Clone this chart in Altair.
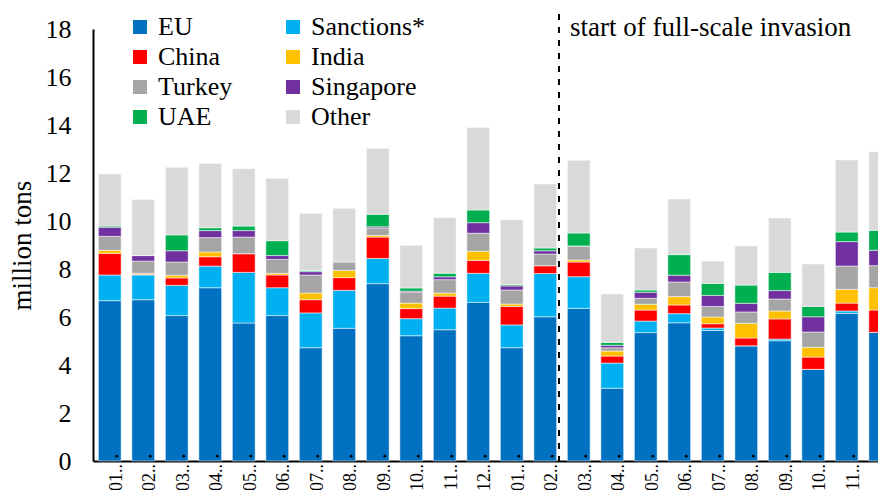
import altair as alt
import pandas as pd

months = ["2021-01", "2021-02", "2021-03", "2021-04", "2021-05", "2021-06",
          "2021-07", "2021-08", "2021-09", "2021-10", "2021-11", "2021-12",
          "2022-01", "2022-02", "2022-03", "2022-04", "2022-05", "2022-06",
          "2022-07", "2022-08", "2022-09", "2022-10", "2022-11", "2022-12"]

series = ["EU", "Sanctions*", "China", "India", "Turkey", "Singapore", "UAE", "Other"]
colors = ["#0070C0", "#00B0F0", "#FF0000", "#FFC000", "#A5A5A5", "#7030A0", "#00B050", "#D9D9D9"]

eu = [6.68, 6.72, 6.06, 7.22, 5.75, 6.06, 4.72, 5.53, 7.39, 5.22, 5.47, 6.61,
      4.72, 6.01, 6.36, 3.03, 5.35, 5.76, 5.44, 4.80, 5.01, 3.82, 6.15, 5.36]
sanctions = [1.07, 1.03, 1.26, 0.90, 2.11, 1.16, 1.45, 1.58, 1.05, 0.71, 0.90, 1.21,
             0.95, 1.80, 1.32, 1.05, 0.48, 0.38, 0.10, 0.00, 0.07, 0.00, 0.10, 0.00]
china = [0.90, 0.03, 0.31, 0.39, 0.78, 0.53, 0.55, 0.53, 0.89, 0.42, 0.50, 0.54,
         0.77, 0.33, 0.61, 0.29, 0.46, 0.36, 0.18, 0.325, 0.84, 0.51, 0.33, 0.93]
india = [0.13, 0.04, 0.11, 0.20, 0.00, 0.07, 0.28, 0.30, 0.07, 0.23, 0.125, 0.38,
         0.10, 0.00, 0.085, 0.21, 0.24, 0.35, 0.28, 0.615, 0.33, 0.41, 0.57, 0.93]
turkey = [0.58, 0.51, 0.55, 0.60, 0.69, 0.58, 0.75, 0.35, 0.31, 0.46, 0.56, 0.75,
          0.585, 0.485, 0.585, 0.14, 0.25, 0.61, 0.44, 0.47, 0.50, 0.635, 0.975, 0.92]
singapore = [0.38, 0.23, 0.47, 0.29, 0.27, 0.16, 0.14, 0.04, 0.05, 0.04, 0.12, 0.44,
             0.17, 0.135, 0.00, 0.10, 0.25, 0.28, 0.46, 0.36, 0.35, 0.635, 1.015, 0.64]
uae = [0.05, 0.00, 0.66, 0.12, 0.19, 0.62, 0.05, 0.00, 0.52, 0.13, 0.15, 0.53,
       0.05, 0.115, 0.54, 0.12, 0.095, 0.86, 0.50, 0.76, 0.76, 0.43, 0.40, 0.83]
other = [2.17, 2.34, 2.82, 2.68, 2.39, 2.60, 2.38, 2.20, 2.75, 1.78, 2.32, 3.44,
         2.71, 2.665, 3.03, 2.02, 1.75, 2.32, 0.93, 1.63, 2.265, 1.77, 3.00, 3.28]

values = [eu, sanctions, china, india, turkey, singapore, uae, other]

# legend is laid out column by column: left column first, then right column
legend_order = ["EU", "China", "Turkey", "UAE", "Sanctions*", "India", "Singapore", "Other"]

y_ticks = [0, 2, 4, 6, 8, 10, 12, 14, 16, 18]
month_ticks = [m[5:] + ".." for m in months]   # "01.." ... "12.." (truncated labels)
invasion_at = 13.5                              # between 2022-02 and 2022-03
annotation = ["start of full-scale invasion"]

BAR_HALF = 0.34   # half bar width, in category steps

# stacked table built from the arrays above
rows = []
for i, m in enumerate(months):
    base = 0.0
    for k, (name, vals) in enumerate(zip(series, values)):
        top = base + vals[i]
        rows.append({"idx": i, "month": m, "country": name, "value": vals[i],
                     "x0": i - BAR_HALF, "x1": i + BAR_HALF, "y0": base, "y1": top})
        base = top
df = pd.DataFrame(rows)

color_of = dict(zip(series, colors))
legend_colors = [color_of[s] for s in legend_order]

FONT = "Liberation Serif"

# one category step is 33.5 px; the plot area ends inside the last bar,
# so the last month is cut at the right edge as in the original
W = 785
H = 432
STEP = 33.5
xscale = alt.Scale(domain=[-0.5, -0.5 + W / STEP], nice=False, zero=False)
yscale = alt.Scale(domain=[0, 18], nice=False)

xaxis = alt.Axis(title=None, labels=False, ticks=False, grid=False,
                 domainColor="black", domainWidth=2)

bars = alt.Chart(df).mark_bar(stroke="white", strokeWidth=1, strokeOpacity=0.5).encode(
    x=alt.X("x0:Q", scale=xscale, axis=xaxis),
    x2="x1:Q",
    y=alt.Y("y0:Q", scale=yscale,
            axis=alt.Axis(values=y_ticks, grid=False, ticks=False,
                          domainColor="black", domainWidth=2,
                          labelFont=FONT, labelFontSize=26, labelColor="black",
                          labelPadding=22, title="million tons",
                          titleFont=FONT, titleFontSize=27, titleFontWeight="normal",
                          titleColor="black", titlePadding=9)),
    y2="y1:Q",
    color=alt.Color("country:N", scale=alt.Scale(domain=legend_order, range=legend_colors),
                    legend=alt.Legend(title=None, orient="none", legendX=34, legendY=-15,
                                      columns=2, symbolType="square", symbolSize=196,
                                      symbolStrokeWidth=0, symbolOpacity=1,
                                      labelFont=FONT, labelFontSize=26, labelColor="black",
                                      labelOffset=5, columnPadding=47, rowPadding=4)),
)

tick_df = pd.DataFrame({"idx": list(range(len(months))), "lab": month_ticks})

dots = alt.Chart(tick_df).mark_circle(
    size=8, color="black", opacity=1, xOffset=7
).encode(x=alt.X("idx:Q", scale=xscale), y=alt.datum(0.2))

month_labels = alt.Chart(tick_df).mark_text(
    angle=270, align="right", baseline="middle", font=FONT, fontSize=18,
    color="black", xOffset=7
).encode(x=alt.X("idx:Q", scale=xscale), y=alt.value(H + 3), text="lab:N")

rule = alt.Chart(pd.DataFrame({"p": [invasion_at]})).mark_rule(
    strokeDash=[6, 7], strokeWidth=2, color="black", xOffset=-3
).encode(x=alt.X("p:Q", scale=xscale), y=alt.value(-15), y2=alt.value(H))

text = alt.Chart(pd.DataFrame({"p": [invasion_at], "t": annotation})).mark_text(
    align="left", baseline="alphabetic", font=FONT, fontSize=27, color="black", dx=8
).encode(x=alt.X("p:Q", scale=xscale), y=alt.value(7), text="t:N")

chart = alt.layer(bars, dots, month_labels, rule, text).properties(
    width=W, height=H,
    padding={"left": 85, "top": 21, "right": 0, "bottom": 29},
    autosize=alt.AutoSizeParams(type="none"),
).configure_view(stroke=None)

chart.save("out.html", embed_options={"renderer": "svg", "actions": False})
